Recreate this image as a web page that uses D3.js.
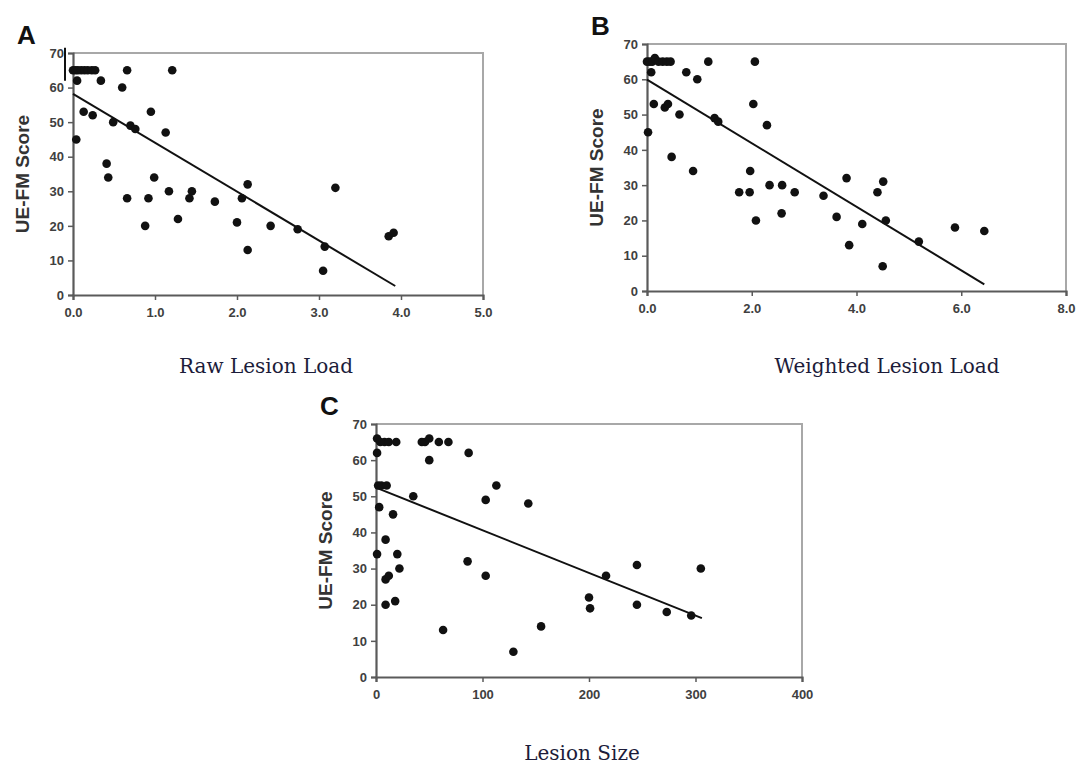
<!DOCTYPE html>
<html>
<head>
<meta charset="utf-8">
<script src="https://cdn.jsdelivr.net/npm/d3@7"></script>
<style>
  body { margin: 0; background: #fff; }
  svg { display: block; }
</style>
</head>
<body>
<div id="chart"></div>
<script>
// Panel A: raw lesion load vs UE-FM score
const rawLoad = [0.00, 0.03, 0.06, 0.10, 0.14, 0.18, 0.23, 0.27, 0.66, 1.21,
  0.05, 0.34, 0.60, 0.13, 0.24, 0.95, 0.49, 0.70, 0.76, 1.13,
  0.04, 0.41, 0.43, 0.99, 0.66, 0.92, 1.17, 1.42, 1.45, 1.73,
  0.88, 1.28, 2.00, 2.06, 2.13, 2.13, 2.41, 2.74, 3.07, 3.05,
  3.20, 3.85, 3.91];
const rawScore = [65, 65, 65, 65, 65, 65, 65, 65, 65, 65,
  62, 62, 60, 53, 52, 53, 50, 49, 48, 47,
  45, 38, 34, 34, 28, 28, 30, 28, 30, 27,
  20, 22, 21, 28, 32, 13, 20, 19, 14, 7,
  31, 17, 18];
const rawFit = [[0, 58.2], [3.93, 2.6]];

// Panel B: weighted lesion load vs UE-FM score
const weightedLoad = [0.00, 0.05, 0.10, 0.15, 0.22, 0.30, 0.38, 0.45, 1.17, 2.06,
  0.08, 0.75, 0.96, 0.13, 0.34, 0.40, 0.62, 1.29, 1.36, 2.03,
  2.29, 0.02, 0.47, 0.88, 1.97, 1.76, 1.96, 2.08, 2.34, 2.58,
  2.57, 2.82, 3.37, 3.62, 3.81, 4.11, 3.86, 4.40, 4.51, 4.56,
  4.50, 5.19, 5.88, 6.44];
const weightedScore = [65, 65, 65, 66, 65, 65, 65, 65, 65, 65,
  62, 62, 60, 53, 52, 53, 50, 49, 48, 53,
  47, 45, 38, 34, 34, 28, 28, 20, 30, 30,
  22, 28, 27, 21, 32, 19, 13, 28, 31, 20,
  7, 14, 18, 17];
const weightedFit = [[0, 59.9], [6.44, 1.9]];

// Panel C: lesion size vs UE-FM score
const lesionSize = [1, 4, 8, 12, 19, 43, 46, 50, 59, 68,
  1, 50, 87, 2, 5, 10, 113, 103, 143, 35,
  3, 16, 9, 1, 20, 22, 9, 12, 9, 18,
  86, 103, 63, 129, 155, 200, 201, 216, 245, 245,
  273, 296, 305];
const sizeScore = [66, 65, 65, 65, 65, 65, 65, 66, 65, 65,
  62, 60, 62, 53, 53, 53, 53, 49, 48, 50,
  47, 45, 38, 34, 34, 30, 27, 28, 20, 21,
  32, 28, 13, 7, 14, 22, 19, 28, 31, 20,
  18, 17, 30];
const sizeFit = [[0, 52.4], [306, 16.3]];

const scoreTicks = [0, 10, 20, 30, 40, 50, 60, 70];
const rawTicks = [0, 1, 2, 3, 4, 5];
const weightedTicks = [0, 2, 4, 6, 8];
const sizeTicks = [0, 100, 200, 300, 400];

const W = 1083, H = 765;

const svg = d3.select("#chart")
    .append("svg")
    .attr("width", W)
    .attr("height", H)
    .attr("viewBox", `0 0 ${W} ${H}`);

function drawPanel(opt) {
    const x = d3.scaleLinear().domain(opt.xDomain).range([opt.left, opt.right]);
    const y = d3.scaleLinear().domain([0, 70]).range([opt.bottom, opt.top]);
    const g = svg.append("g");

    // light frame on top and right
    g.append("path")
        .attr("d", `M${opt.left},${opt.top}H${opt.right}V${opt.bottom}`)
        .attr("fill", "none")
        .attr("stroke", "#a8a8a8")
        .attr("stroke-width", 2);

    const yAxis = g.append("g")
        .attr("transform", `translate(${opt.left},0)`)
        .call(d3.axisLeft(y).tickValues(scoreTicks).tickSize(5).tickPadding(4).tickFormat(d3.format("d")));
    const xAxis = g.append("g")
        .attr("transform", `translate(0,${opt.bottom})`)
        .call(d3.axisBottom(x).tickValues(opt.xTicks).tickSize(5).tickPadding(8).tickFormat(opt.fmt));

    [yAxis, xAxis].forEach(a => {
        a.select(".domain").attr("stroke", "#5a5a5a").attr("stroke-width", 2.2);
        a.selectAll(".tick line").attr("stroke", "#5a5a5a").attr("stroke-width", 1.5);
        a.selectAll(".tick text")
            .attr("fill", "#404040")
            .attr("font-family", "Liberation Sans, Arial, sans-serif")
            .attr("font-weight", "bold")
            .attr("font-size", 13);
    });

    // fit line
    g.append("path")
        .datum(opt.fit)
        .attr("d", d3.line().x(d => x(d[0])).y(d => y(d[1])))
        .attr("fill", "none")
        .attr("stroke", "#111")
        .attr("stroke-width", 2);

    // points
    g.selectAll("circle")
        .data(opt.xs.map((v, i) => [v, opt.ys[i]]))
        .enter()
        .append("circle")
        .attr("cx", d => x(d[0]))
        .attr("cy", d => y(d[1]))
        .attr("r", 4.3)
        .attr("fill", "#111");

    // y title
    g.append("text")
        .attr("transform", `translate(${opt.left - 51},${(opt.top + opt.bottom) / 2}) rotate(-90)`)
        .attr("text-anchor", "middle")
        .attr("dy", "0.35em")
        .attr("font-family", "Liberation Sans, Arial, sans-serif")
        .attr("font-weight", "bold")
        .attr("font-size", 19)
        .attr("fill", "#333")
        .text("UE-FM Score");

    // panel letter
    g.append("text")
        .attr("x", opt.left - 56)
        .attr("y", opt.top - 9)
        .attr("font-family", "Liberation Sans, Arial, sans-serif")
        .attr("font-weight", "bold")
        .attr("font-size", 26)
        .attr("fill", "#111")
        .text(opt.letter);

    // x title
    svg.append("text")
        .attr("x", opt.titleX)
        .attr("y", opt.titleY)
        .attr("text-anchor", "middle")
        .attr("font-family", "DejaVu Serif, serif")
        .attr("font-size", 20)
        .attr("fill", "#1c1c3a")
        .text(opt.title);

    return { x, y, g };
}

const fmt1 = d3.format(".1f");

const pA = drawPanel({
    letter: "A", left: 73, right: 483, top: 53, bottom: 295,
    xDomain: [0, 5], xTicks: rawTicks, fmt: fmt1,
    xs: rawLoad, ys: rawScore, fit: rawFit,
    title: "Raw Lesion Load", titleX: 266, titleY: 373
});
// stray vertical mark next to the top of panel A's y axis
pA.g.append("line")
    .attr("x1", pA.x(0) - 8).attr("x2", pA.x(0) - 8)
    .attr("y1", pA.y(71.5)).attr("y2", pA.y(62))
    .attr("stroke", "#111").attr("stroke-width", 2);

drawPanel({
    letter: "B", left: 647, right: 1066, top: 44, bottom: 291,
    xDomain: [0, 8], xTicks: weightedTicks, fmt: fmt1,
    xs: weightedLoad, ys: weightedScore, fit: weightedFit,
    title: "Weighted Lesion Load", titleX: 887, titleY: 373
});

drawPanel({
    letter: "C", left: 376, right: 802, top: 424, bottom: 677,
    xDomain: [0, 400], xTicks: sizeTicks, fmt: d3.format("d"),
    xs: lesionSize, ys: sizeScore, fit: sizeFit,
    title: "Lesion Size", titleX: 582, titleY: 760
});
</script>
</body>
</html>
